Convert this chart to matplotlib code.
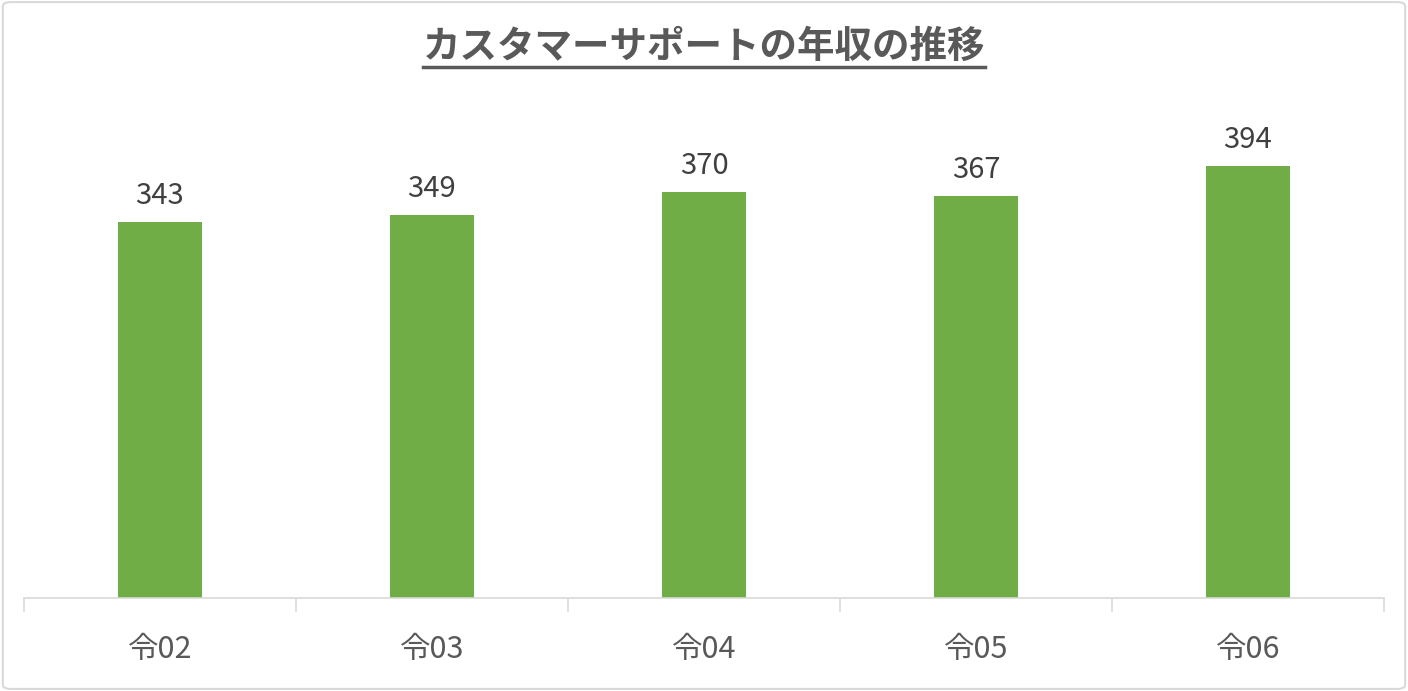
import matplotlib.pyplot as plt
from matplotlib.patches import FancyBboxPatch
from matplotlib.lines import Line2D
import numpy as np

plt.rcParams['font.family'] = ['Noto Sans CJK JP', 'DejaVu Sans']

categories = ["令02", "令03", "令04", "令05", "令06"]
salaries = [343, 349, 370, 367, 394]
title = "カスタマーサポートの年収の推移"

fig = plt.figure(figsize=(14.08, 6.91), dpi=100)

# 外枠
border = FancyBboxPatch((0.002, 0.003), 0.996, 0.994, boxstyle="round,pad=0,rounding_size=0.006",
                        transform=fig.transFigure, fill=False, edgecolor="#D9D9D9", linewidth=1.5)
fig.patches.append(border)

ax = fig.add_axes([24 / 1408, 93 / 691, 1360 / 1408, 508 / 691])
x = np.arange(len(categories))
bars = ax.bar(x, salaries, width=0.31, color="#70AD47")

ax.set_xlim(-0.5, len(categories) - 0.5)
ax.set_ylim(0, 463.5)

for b, v in zip(bars, salaries):
    ax.annotate(str(v), (b.get_x() + b.get_width() / 2, v), xytext=(0, 8),
                textcoords="offset points", ha="center", va="bottom",
                fontsize=21, color="#404040")

ax.set_xticks(x)
ax.set_xticklabels(categories, fontsize=22, color="#595959")
ax.tick_params(axis="x", which="major", length=0, pad=26)
ax.set_xticks(np.arange(-0.5, len(categories), 1), minor=True)
ax.tick_params(axis="x", which="minor", length=10, width=1.2, color="#D9D9D9")
ax.set_yticks([])
for s in ["top", "right", "left"]:
    ax.spines[s].set_visible(False)
ax.spines["bottom"].set_color("#D9D9D9")
ax.spines["bottom"].set_linewidth(1.2)

t = fig.text(0.5, 1 - 46 / 691, title, ha="center", va="center",
             fontsize=27, fontweight="bold", color="#595959")

# タイトルの下線
fig.canvas.draw()
bb = t.get_window_extent().transformed(fig.transFigure.inverted())
fig.add_artist(Line2D([bb.x0, bb.x1], [1 - 67 / 691] * 2, transform=fig.transFigure,
                      color="#595959", linewidth=2.5))

fig.savefig("out.png", dpi=100)
